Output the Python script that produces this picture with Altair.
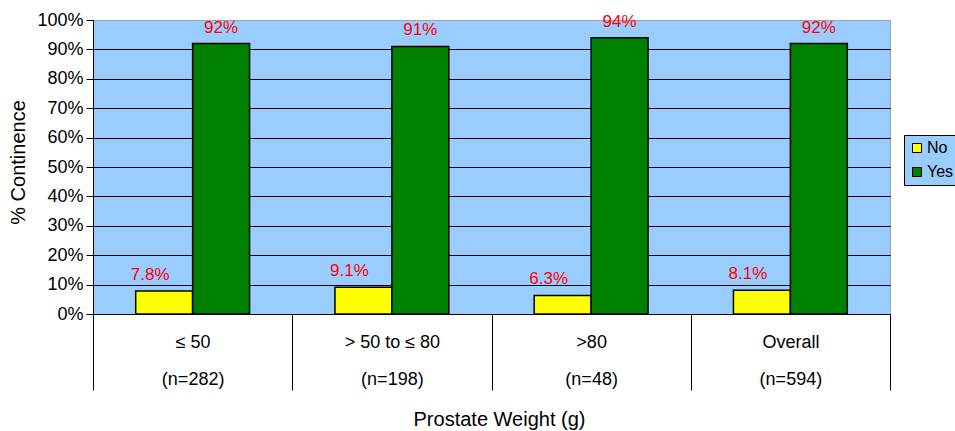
import altair as alt
import pandas as pd

# Continence rates by prostate weight group
groups = ["≤ 50", "> 50 to ≤ 80", ">80", "Overall"]
group_n = [282, 198, 48, 594]
series = ["No", "Yes"]
no_pct = [7.8, 9.1, 6.3, 8.1]
yes_pct = [92, 91, 94, 92]
y_ticks = [0, 10, 20, 30, 40, 50, 60, 70, 80, 90, 100]

keys = [f"{g}|(n={n})" for g, n in zip(groups, group_n)]
rows = []
for k, a, b in zip(keys, no_pct, yes_pct):
    rows.append({"group": k, "series": "No", "value": a})
    rows.append({"group": k, "series": "Yes", "value": b})
df = pd.DataFrame(rows)

FONT = "Liberation Sans"

x_enc = alt.X(
    "group:N",
    sort=keys,
    scale=alt.Scale(paddingInner=0, paddingOuter=0),
    axis=alt.Axis(
        title="Prostate Weight (g)",
        titleFontSize=20,
        titleFontWeight="normal",
        titleColor="black",
        titleX=406,
        titleY=111,
        titleBaseline="alphabetic",
        titleAlign="center",
        labelExpr="split(datum.label, '|')",
        labelFontSize=18,
        labelColor="black",
        labelLineHeight=37,
        labelPadding=-57,
        labelAngle=0,
        labelOverlap=False,
        labelBound=False,
        tickBand="extent",
        tickSize=76,
        tickColor="black",
        tickWidth=1,
        domainColor="black",
        domainWidth=1,
    ),
)
xo_enc = alt.XOffset(
    "series:N", sort=series, scale=alt.Scale(paddingInner=0, paddingOuter=0.75)
)
y_enc = alt.Y(
    "value:Q",
    scale=alt.Scale(domain=[0, 100], nice=False),
    axis=alt.Axis(
        title="% Continence",
        titleFontSize=20,
        titleFontWeight="normal",
        titleColor="black",
        titleAngle=270,
        titleX=-75,
        titleY=142,
        titleAlign="center",
        titleBaseline="middle",
        values=y_ticks,
        tickCount=len(y_ticks),
        labelExpr="datum.value + '%'",
        labelFontSize=18,
        labelColor="black",
        labelPadding=3,
        labelOverlap=False,
        labelFlush=False,
        tickSize=7,
        tickColor="black",
        domainColor="black",
        gridColor=alt.condition("datum.value >= 100", alt.value("#A0A0A0"), alt.value("black")),
        gridWidth=1,
    ),
)

bars = alt.Chart(df).mark_bar(stroke="black", strokeWidth=1.5).encode(
    x=x_enc,
    xOffset=xo_enc,
    y=y_enc,
    color=alt.Color(
        "series:N",
        sort=series,
        scale=alt.Scale(domain=series, range=["#FFFF00", "#008000"]),
        legend=alt.Legend(
            title=None,
            orient="none",
            legendX=811,
            legendY=115,
            fillColor="#99CCFF",
            strokeColor="black",
            padding=5,
            symbolType="square",
            symbolSize=81,
            symbolStrokeColor="black",
            symbolStrokeWidth=1,
            labelFontSize=16,
            labelColor="black",
            labelOffset=2,
            rowPadding=8,
        ),
    ),
)

label_text = "datum.value + '%'"

no_labels = (
    alt.Chart(df)
    .transform_filter("datum.series == 'No'")
    .transform_calculate(label=label_text)
    .mark_text(color="#FF0000", fontSize=17, baseline="alphabetic", dy=-11, dx=-14)
    .encode(x=x_enc, xOffset=xo_enc, y=y_enc, text="label:N")
)
yes_labels = (
    alt.Chart(df)
    .transform_filter("datum.series == 'Yes'")
    .transform_calculate(label=label_text)
    .mark_text(color="#FF0000", fontSize=17, baseline="alphabetic", dy=-11)
    .encode(x=x_enc, xOffset=xo_enc, y=y_enc, text="label:N")
)

chart = (
    alt.layer(bars, no_labels, yes_labels)
    .properties(
        width=797,
        height=294,
        autosize=alt.AutoSizeParams(type="none"),
        padding={"left": 93, "top": 20, "right": 65, "bottom": 117},
        background="white",
    )
    .configure(font=FONT)
    .configure_view(fill="#99CCFF", stroke="#A0A0A0", strokeWidth=1)
)

chart.save("out.html", embed_options={"renderer": "svg", "actions": False})
